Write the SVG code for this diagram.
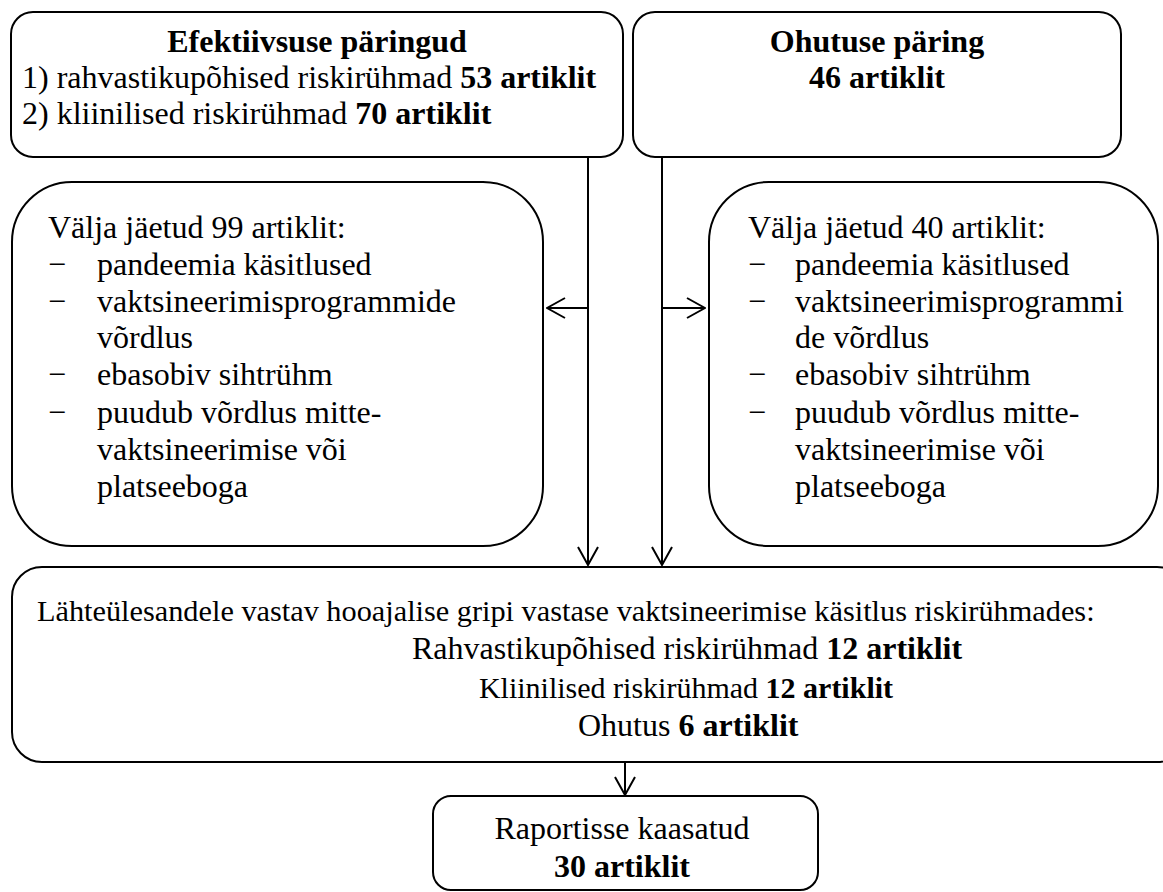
<svg xmlns="http://www.w3.org/2000/svg" width="1163" height="892" viewBox="0 0 1163 892">
<style>
.box{fill:#fff;stroke:#000;stroke-width:2}
.t{font-family:"Liberation Serif","Times New Roman",serif;font-size:32px;fill:#000}
.b{font-weight:bold}
.c{text-anchor:middle}
.ln{fill:none;stroke:#000;stroke-width:2}
</style>
<defs>
<marker id="arr" viewBox="0 0 20 22" refX="19" refY="11" markerWidth="20" markerHeight="22" markerUnits="userSpaceOnUse" orient="auto">
<path d="M1,1 L19,11 L1,21" fill="none" stroke="#000" stroke-width="2"/>
</marker>
</defs>
<rect width="1163" height="892" fill="#fff"/>
<g id="node-efektiivsus">
<rect class="box" x="11" y="12" width="612" height="145" rx="22"/>
<text class="t b c" x="317" y="52">Efektiivsuse päringud</text>
<text class="t" x="22" y="88">1) rahvastikupõhised riskirühmad <tspan class="b">53 artiklit</tspan></text>
<text class="t" x="22" y="124">2) kliinilised riskirühmad <tspan class="b">70 artiklit</tspan></text>
</g>
<g id="node-ohutus">
<rect class="box" x="633" y="12" width="488" height="145" rx="22"/>
<text class="t b c" x="877" y="52">Ohutuse päring</text>
<text class="t b c" x="877" y="88">46 artiklit</text>
</g>
<g id="node-valja99">
<rect class="box" x="12" y="182" width="531" height="364" rx="60"/>
<text class="t" x="48" y="238">Välja jäetud 99 artiklit:</text>
<text class="t" x="48" y="275">−</text><text class="t" x="97" y="275">pandeemia käsitlused</text>
<text class="t" x="48" y="312">−</text><text class="t" x="97" y="312">vaktsineerimisprogrammide</text>
<text class="t" x="97" y="348">võrdlus</text>
<text class="t" x="48" y="385">−</text><text class="t" x="97" y="385">ebasobiv sihtrühm</text>
<text class="t" x="48" y="423">−</text><text class="t" x="97" y="423">puudub võrdlus mitte-</text>
<text class="t" x="97" y="460">vaktsineerimise või</text>
<text class="t" x="97" y="497">platseeboga</text>
</g>
<g id="node-valja40">
<rect class="box" x="709" y="182" width="449" height="364" rx="60"/>
<text class="t" x="748" y="238">Välja jäetud 40 artiklit:</text>
<text class="t" x="748" y="275">−</text><text class="t" x="795" y="275">pandeemia käsitlused</text>
<text class="t" x="748" y="312">−</text><text class="t" x="795" y="312">vaktsineerimisprogrammi</text>
<text class="t" x="795" y="348">de võrdlus</text>
<text class="t" x="748" y="385">−</text><text class="t" x="795" y="385">ebasobiv sihtrühm</text>
<text class="t" x="748" y="423">−</text><text class="t" x="795" y="423">puudub võrdlus mitte-</text>
<text class="t" x="795" y="460">vaktsineerimise või</text>
<text class="t" x="795" y="497">platseeboga</text>
</g>
<g id="node-lahteulesanne">
<rect class="box" x="12" y="567" width="1175" height="195" rx="30"/>
<text class="t" x="37" y="621" style="font-size:30.3px">Lähteülesandele vastav hooajalise gripi vastase vaktsineerimise käsitlus riskirühmades:</text>
<text class="t" x="412" y="659">Rahvastikupõhised riskirühmad <tspan class="b">12 artiklit</tspan></text>
<text class="t c" x="686" y="698" style="font-size:30px">Kliinilised riskirühmad <tspan class="b">12 artiklit</tspan></text>
<text class="t" x="578" y="736">Ohutus <tspan class="b">6 artiklit</tspan></text>
</g>
<g id="node-raport">
<rect class="box" x="433" y="796" width="385" height="94" rx="18"/>
<text class="t c" x="622" y="839">Raportisse kaasatud</text>
<text class="t b c" x="622" y="877">30 artiklit</text>
</g>
<g id="connectors">
<line class="ln" x1="588" y1="157" x2="588" y2="565" marker-end="url(#arr)"/>
<line class="ln" x1="662" y1="157" x2="662" y2="565" marker-end="url(#arr)"/>
<line class="ln" x1="588" y1="308" x2="547" y2="308" marker-end="url(#arr)"/>
<line class="ln" x1="662" y1="308" x2="705" y2="308" marker-end="url(#arr)"/>
<line class="ln" x1="625" y1="762" x2="625" y2="795" marker-end="url(#arr)"/>
</g>
</svg>
